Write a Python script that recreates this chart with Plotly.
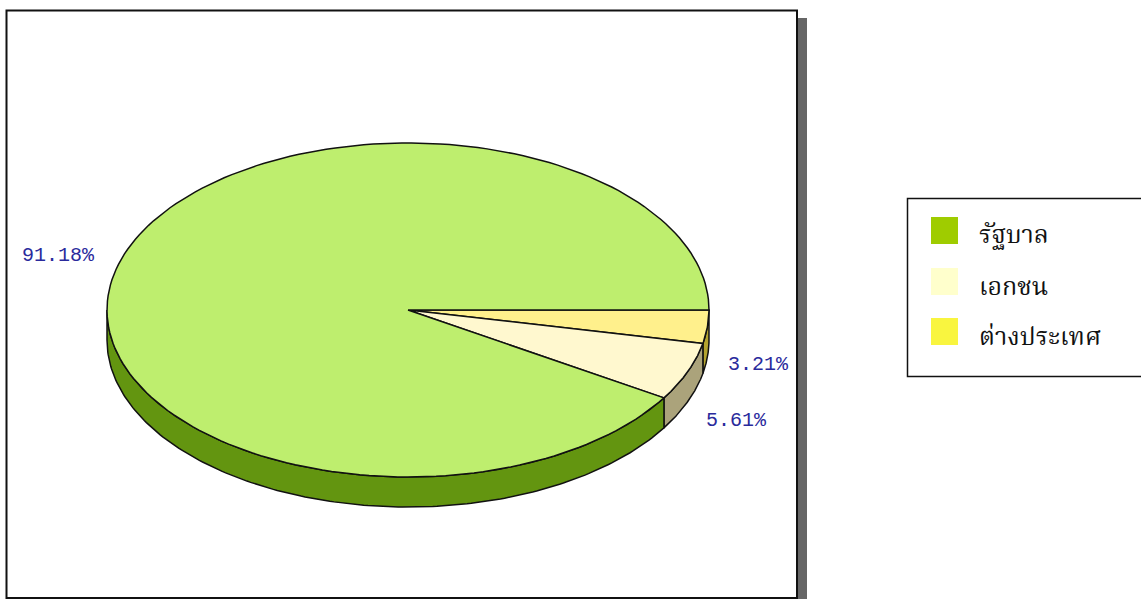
"""3D-style pie of funding shares, drawn as filled scatter traces on a pixel-sized plot."""

import numpy as np
import plotly.graph_objects as go

WIDTH = 1141
HEIGHT = 599

# slices in drawing order, clockwise from the east edge of the pie
slice_names = ["ต่างประเทศ", "เอกชน", "รัฐบาล"]
slice_shares = [3.21, 5.61, 91.18]
top_colors = ["#FFF08C", "#FFF8CF", "#BEEE6E"]
side_colors = ["#B3A32E", "#ABA37B", "#639510"]
label_texts = ["3.21%", "5.61%", "91.18%"]
label_x = [758, 736, 58]
label_y = [364, 420, 255]

legend_names = ["รัฐบาล", "เอกชน", "ต่างประเทศ"]
legend_colors = ["#9FCC00", "#FFFFCC", "#F9F53F"]
legend_y = [231, 282, 332]

CX, CY = 408, 310
RX, RY = 301, 167
DEPTH = 30
OUTLINE = "#111111"


def ellipse(start_deg, end_deg):
    """Return x, y points along the pie rim between two angles."""
    theta = np.radians(np.linspace(start_deg, end_deg, 181))
    return CX + RX * np.cos(theta), CY + RY * np.sin(theta)


fig = go.Figure()

angles = np.cumsum([0] + slice_shares) * 3.6

# side walls, only the front half of the rim can be seen
for i, name in enumerate(slice_names):
    start, end = angles[i], min(angles[i + 1], 180)
    x, y = ellipse(start, end)
    fig.add_trace(
        go.Scatter(
            x=np.concatenate([x, x[::-1], x[:1]]),
            y=np.concatenate([y, y[::-1] + DEPTH, y[:1]]),
            mode="lines",
            fill="toself",
            fillcolor=side_colors[i],
            line={"color": OUTLINE, "width": 1.5},
            name=name,
            hoverinfo="skip",
        )
    )

# top faces
for i, name in enumerate(slice_names):
    x, y = ellipse(angles[i], angles[i + 1])
    fig.add_trace(
        go.Scatter(
            x=np.concatenate([[CX], x, [CX]]),
            y=np.concatenate([[CY], y, [CY]]),
            mode="lines",
            fill="toself",
            fillcolor=top_colors[i],
            line={"color": OUTLINE, "width": 1.5},
            name=name,
            hovertemplate=f"{name}: {slice_shares[i]}%<extra></extra>",
        )
    )

# chart panel and its shadow
shapes = [
    {"type": "rect", "x0": 797, "x1": 807, "y0": 18, "y1": 600,
     "fillcolor": "#666666", "line": {"width": 0}, "layer": "below"},
    {"type": "rect", "x0": 6.5, "x1": 797, "y0": 10.5, "y1": 598,
     "fillcolor": "#FFFFFF", "line": {"color": "#111111", "width": 2}, "layer": "below"},
    {"type": "rect", "x0": 907.5, "x1": 1150, "y0": 198.5, "y1": 376.5,
     "fillcolor": "#FFFFFF", "line": {"color": "#111111", "width": 1.5}, "layer": "below"},
]
for color, ypos in zip(legend_colors, legend_y):
    shapes.append(
        {"type": "rect", "x0": 931, "x1": 958, "y0": ypos - 14, "y1": ypos + 13,
         "fillcolor": color, "line": {"width": 0}, "layer": "below"}
    )

annotations = [
    {"x": lx, "y": ly, "text": text, "showarrow": False, "xanchor": "center", "yanchor": "middle",
     "font": {"family": "Liberation Mono", "size": 20, "color": "#2A2A9C"}}
    for text, lx, ly in zip(label_texts, label_x, label_y)
]
annotations += [
    {"x": 977, "y": ypos + 4, "text": name, "showarrow": False, "xanchor": "left", "yanchor": "middle",
     "font": {"family": "Liberation Serif, Noto Serif Thai, serif", "size": 25, "color": "#111111"}}
    for name, ypos in zip(legend_names, legend_y)
]

fig.update_layout(
    width=WIDTH,
    height=HEIGHT,
    margin={"t": 0, "r": 0, "b": 0, "l": 0},
    paper_bgcolor="#FFFFFF",
    plot_bgcolor="#FFFFFF",
    showlegend=False,
    shapes=shapes,
    annotations=annotations,
)
fig.update_xaxes(range=[0, WIDTH], visible=False, fixedrange=True)
fig.update_yaxes(range=[HEIGHT, 0], visible=False, fixedrange=True)

fig.write_html(
    "out.html",
    config={"displayModeBar": False},
    post_script="document.body.style.margin='0';document.body.style.overflow='hidden';",
)
